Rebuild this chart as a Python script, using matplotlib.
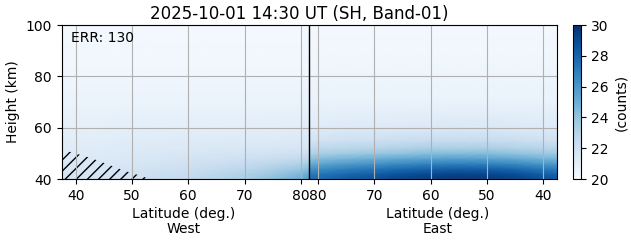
import numpy as np
import matplotlib.pyplot as plt

# latitude nodes (deg), same for both halves; 81.5 is the split line
lat_nodes = [37.5, 40, 45, 50, 55, 60, 65, 70, 75, 80, 81.5]
height_nodes = [40, 42, 44, 46, 48, 50, 52, 55, 60, 70, 85, 100]

# counts, rows = height_nodes, cols = lat_nodes
counts_west = [
    [21.8, 21.8, 21.8, 22.0, 22.3, 22.6, 23.0, 23.4, 24.2, 25.1, 25.8],
    [21.7, 21.7, 21.7, 21.9, 22.2, 22.4, 22.8, 23.2, 23.8, 24.6, 25.3],
    [21.6, 21.6, 21.6, 21.8, 22.0, 22.2, 22.5, 22.8, 23.3, 23.9, 24.4],
    [21.5, 21.5, 21.5, 21.6, 21.8, 22.0, 22.2, 22.4, 22.8, 23.2, 23.6],
    [21.4, 21.4, 21.4, 21.5, 21.6, 21.8, 21.9, 22.1, 22.3, 22.6, 22.8],
    [21.3, 21.3, 21.3, 21.4, 21.5, 21.6, 21.7, 21.8, 21.9, 22.1, 22.2],
    [21.2, 21.2, 21.2, 21.3, 21.4, 21.4, 21.5, 21.5, 21.6, 21.7, 21.7],
    [21.1, 21.1, 21.1, 21.2, 21.2, 21.3, 21.3, 21.3, 21.3, 21.4, 21.4],
    [20.9, 20.9, 20.9, 21.0, 21.0, 21.0, 21.0, 21.0, 21.1, 21.1, 21.1],
    [20.6, 20.6, 20.6, 20.6, 20.6, 20.6, 20.6, 20.6, 20.6, 20.6, 20.6],
    [20.3, 20.3, 20.3, 20.3, 20.3, 20.3, 20.3, 20.3, 20.3, 20.3, 20.3],
    [20.2, 20.2, 20.2, 20.2, 20.2, 20.2, 20.2, 20.2, 20.2, 20.2, 20.2],
]
counts_east = [
    [28.6, 28.8, 29.4, 29.7, 29.8, 29.6, 29.3, 28.8, 28.4, 27.9, 27.7],
    [28.0, 28.2, 28.8, 29.1, 29.2, 29.0, 28.7, 28.2, 27.8, 27.3, 27.1],
    [27.0, 27.2, 27.8, 28.1, 28.2, 28.0, 27.7, 27.3, 26.9, 26.4, 26.2],
    [25.8, 26.0, 26.5, 26.8, 26.9, 26.8, 26.5, 26.1, 25.8, 25.3, 25.1],
    [24.7, 24.8, 25.2, 25.5, 25.6, 25.5, 25.3, 25.0, 24.7, 24.3, 24.1],
    [23.7, 23.8, 24.1, 24.3, 24.4, 24.3, 24.1, 23.9, 23.7, 23.4, 23.2],
    [22.9, 23.0, 23.2, 23.4, 23.4, 23.4, 23.2, 23.0, 22.9, 22.7, 22.6],
    [22.1, 22.1, 22.3, 22.4, 22.4, 22.4, 22.3, 22.2, 22.1, 21.9, 21.9],
    [21.3, 21.3, 21.4, 21.5, 21.5, 21.4, 21.4, 21.3, 21.3, 21.2, 21.2],
    [20.7, 20.7, 20.7, 20.7, 20.7, 20.7, 20.7, 20.7, 20.7, 20.7, 20.7],
    [20.4, 20.4, 20.4, 20.4, 20.4, 20.4, 20.4, 20.4, 20.4, 20.4, 20.4],
    [20.2, 20.2, 20.2, 20.2, 20.2, 20.2, 20.2, 20.2, 20.2, 20.2, 20.2],
]

# hatched (flagged) region, west side
hatch_lat = [37.5, 37.5, 40, 43, 46, 49, 52, 53]
hatch_height = [40, 51.5, 50, 48, 45.5, 43, 41, 40]

west_ticks = [40, 50, 60, 70, 80]
east_ticks = [80, 70, 60, 50, 40]
split_x = 81.5
mirror = 163  # east side plotted at x = mirror - lat

fig = plt.figure(figsize=(6.31, 2.43), dpi=100)
ax = fig.add_axes([0.0975, 0.263, 0.7857, 0.634])
cax = fig.add_axes([0.908, 0.263, 0.0127, 0.634])

lat = np.array(lat_nodes)
mesh = ax.pcolormesh(lat, height_nodes, np.array(counts_west), shading='gouraud',
                     cmap='Blues', vmin=20, vmax=30)
ax.pcolormesh(mirror - lat, height_nodes, np.array(counts_east), shading='gouraud',
              cmap='Blues', vmin=20, vmax=30)

ax.fill(hatch_lat, hatch_height, facecolor='none', edgecolor='black',
        linewidth=0, hatch='///')

ax.axvline(split_x, color='black', linewidth=1.0)

ax.set_xlim(37.5, mirror - 37.5)
ax.set_ylim(40, 100)
ax.set_xticks(west_ticks + [mirror - t for t in east_ticks])
ax.set_xticklabels([str(t) for t in west_ticks + east_ticks])
ax.set_yticks([40, 60, 80, 100])
ax.set_ylabel('Height (km)')
ax.grid(True)

tr = ax.get_xaxis_transform()
ax.text((37.5 + 80) / 2 + 0.5, -0.18, 'Latitude (deg.)\nWest', transform=tr,
        ha='center', va='top', fontsize=10, linespacing=1.1)
ax.text(mirror - (37.5 + 80) / 2, -0.18, 'Latitude (deg.)\nEast', transform=tr,
        ha='center', va='top', fontsize=10, linespacing=1.1)

ax.text(0.019, 0.96, 'ERR: 130', transform=ax.transAxes, ha='left', va='top', fontsize=10)
ax.set_title('2025-10-01 14:30 UT (SH, Band-01)', fontsize=12, pad=4, x=0.48)

cb = fig.colorbar(mesh, cax=cax)
cb.set_label('(counts)')

fig.savefig('out.png', dpi=100)
